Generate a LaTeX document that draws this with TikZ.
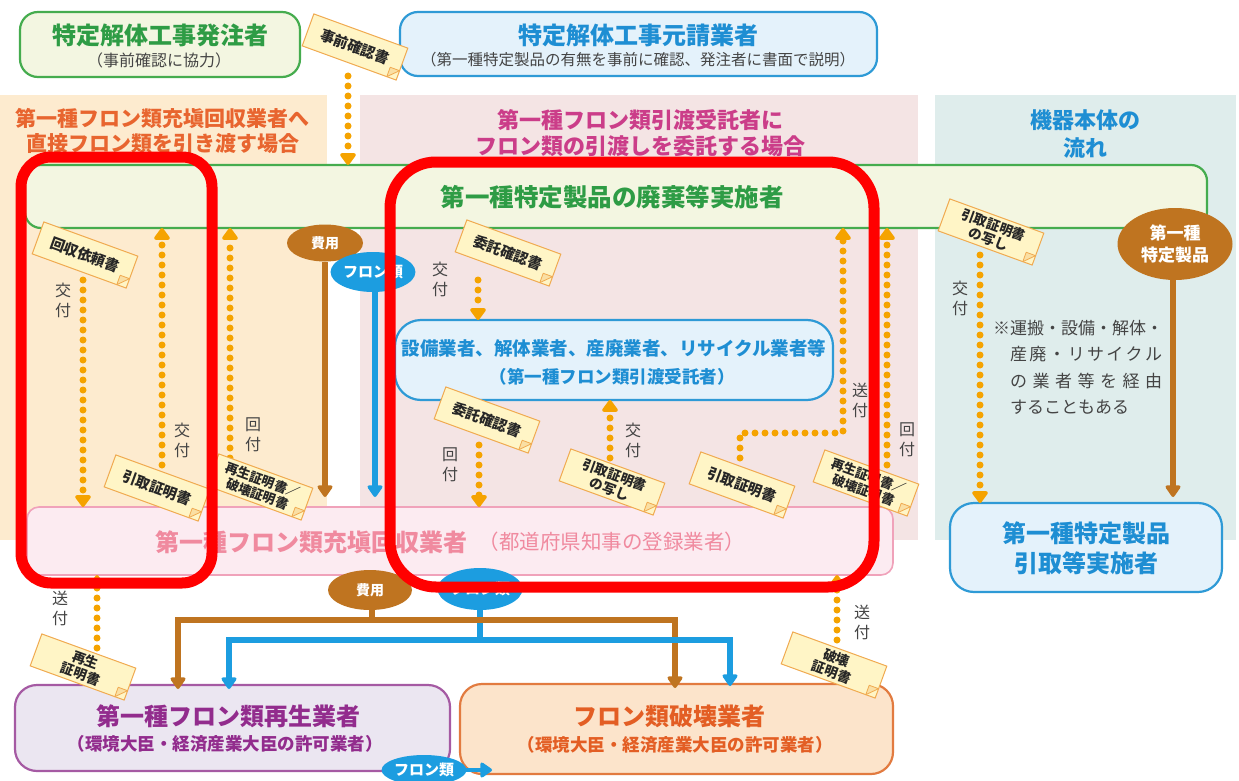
\documentclass[tikz,border=0pt]{standalone}
\usepackage{fontspec}
\setmainfont{Noto Sans CJK JP}
\usetikzlibrary{arrows.meta,shapes.geometric,shapes.misc,calc}
\definecolor{dotc}{HTML}{F5A300}
\definecolor{brownc}{HTML}{BF7420}
\definecolor{bluec}{HTML}{1C9DE0}
\definecolor{bluebd}{HTML}{2E9AD6}
\definecolor{bluetx}{HTML}{1E8ED3}
\definecolor{greenbd}{HTML}{45AC4E}
\definecolor{greentx}{HTML}{2E9C45}
\definecolor{bandf}{HTML}{F3F6E1}
\definecolor{lpanel}{HTML}{FDEBCF}
\definecolor{mpanel}{HTML}{F4E4E4}
\definecolor{rpanel}{HTML}{DFEDEC}
\definecolor{pinkf}{HTML}{FCEBF1}
\definecolor{pinkbd}{HTML}{F0A2BA}
\definecolor{pinktx}{HTML}{F08A9F}
\definecolor{lbluef}{HTML}{E4F2FB}
\definecolor{tagf}{HTML}{FFF5C6}
\definecolor{tagbd}{HTML}{F0AA50}
\definecolor{purpf}{HTML}{EBE6F1}
\definecolor{purpbd}{HTML}{A55AA3}
\definecolor{purptx}{HTML}{922C8D}
\definecolor{orgf}{HTML}{FCE4CB}
\definecolor{orgbd}{HTML}{E27B40}
\definecolor{orgtx}{HTML}{E35E24}
\definecolor{ltitle}{HTML}{E8652F}
\definecolor{mtitle}{HTML}{CB3D89}
\definecolor{graytx}{HTML}{444444}
\definecolor{hlred}{HTML}{FF0000}
\newcommand\myfs[2]{\fontsize{#1}{#2}\selectfont}
\newcommand\tagfold[1]{%
  \coordinate (#1fa) at ($(#1.south east)!10pt!(#1.south west)$);
  \coordinate (#1fb) at ($(#1.south east)!10pt!(#1.north east)$);
  \filldraw[draw=tagbd, fill=tagbd!30!tagf, line width=0.8pt, line join=round]
    (#1fa) -- (#1fb) -- ($(#1fa)+(#1fb)-(#1.south east)$) -- cycle;}
\begin{document}
\begin{tikzpicture}[x=1pt,y=-1pt,
  every node/.style={inner sep=0pt, outer sep=0pt},
  boxst/.style={draw=#1, line width=2.2pt},
  tag/.style={rectangle, draw=tagbd, fill=tagf, line width=1pt,
    rotate=-20, font=\bfseries\myfs{14.5}{16}, text=black!85, align=center,
    minimum width=100pt, minimum height=34pt, inner sep=1.5pt},
  tag2/.style={tag, font=\bfseries\myfs{13.5}{15}},
  vl/.style={font=\myfs{16}{20}, text=graytx, align=center},
  ov/.style={ellipse, fill=#1, text=white, font=\bfseries\myfs{14}{17}, align=center},
  dotarr/.style={draw=dotc, line width=7pt, line cap=round, dash pattern=on 0pt off 10pt,
    -{Triangle[width=18pt,length=13pt,round]}},
  solidarr/.style={draw=#1, line width=6pt, -{Triangle[width=17pt,length=13pt,round]}},
  hl/.style={draw=hlred, line width=11pt, rounded corners=#1}
]
\useasboundingbox (0,0) rectangle (1239,781);
\fill[white] (0,0) rectangle (1239,781);
% panels
\fill[lpanel] (0,95) rectangle (327,540);
\fill[mpanel] (360,95) rectangle (918,540);
\fill[rpanel] (935,95) rectangle (1236,540);
\node[font=\bfseries\myfs{21}{25}, text=ltitle, align=center] (ptl) at (163,131) {第一種フロン類充塡回収業者へ\\直接フロン類を引き渡す場合};
\node[font=\bfseries\myfs{22}{26}, text=mtitle, align=center] (ptm) at (640,133) {第一種フロン類引渡受託者に\\フロン類の引渡しを委託する場合};
\node[font=\bfseries\myfs{22}{28}, text=bluetx, align=center] (ptr) at (1085,134) {機器本体の\\流れ};
% top boxes
\node[boxst=greenbd, fill=bandf, rounded corners=18pt, minimum width=280pt, minimum height=65pt] (hatchu) at (160,44.5) {};
\node[font=\bfseries\myfs{24}{28}, text=greentx] (hatchuT) at (160,35) {特定解体工事発注者};
\node[font=\myfs{16}{18}, text=graytx] (hatchuS) at (159,60) {（事前確認に協力）};
\node[boxst=bluebd, fill=lbluef, rounded corners=18pt, minimum width=477pt, minimum height=64pt] (moto) at (638.5,44) {};
\node[font=\bfseries\myfs{24}{28}, text=bluetx] (motoT) at (638,35) {特定解体工事元請業者};
\node[font=\myfs{15.5}{18}, text=graytx] (motoS) at (638,60) {（第一種特定製品の有無を事前に確認、発注者に書面で説明）};
% band
\node[boxst=greenbd, fill=bandf, rounded corners=16pt, minimum width=1182pt, minimum height=63pt] (band) at (616,196.5) {};
\node[font=\bfseries\myfs{24.5}{28}, text=greentx] (bandT) at (612,197) {第一種特定製品の廃棄等実施者};
% pink box
\node[boxst=pinkbd, fill=pinkf, line width=1.6pt, rounded corners=12pt, minimum width=866pt, minimum height=68pt] (pink) at (460,541) {};
\node[font=\bfseries\myfs{24}{28}, text=pinktx] (pinkT) at (311,542) {第一種フロン類充塡回収業者};
\node[font=\myfs{20.5}{24}, text=pinktx] (pinkS) at (612,542) {（都道府県知事の登録業者）};
% blue box
\node[boxst=bluebd, fill=lbluef, rounded corners=26pt, minimum width=438pt, minimum height=80pt] (bluebox) at (614,360) {};
\node[font=\bfseries\myfs{18.5}{22}, text=bluetx] (blueT) at (614,348) {設備業者、解体業者、産廃業者、リサイクル業者等};
\node[font=\bfseries\myfs{17.5}{21}, text=bluetx] (blueS) at (612,377) {（第一種フロン類引渡受託者）};
% right box
\node[boxst=bluebd, fill=lbluef, rounded corners=24pt, minimum width=272pt, minimum height=89pt] (rbox) at (1086,547.5) {};
\node[font=\bfseries\myfs{24}{30}, text=bluetx, align=center] (rboxT) at (1086,548) {第一種特定製品\\引取等実施者};
% bottom boxes
\node[boxst=purpbd, fill=purpf, rounded corners=22pt, minimum width=435pt, minimum height=86pt] (saisei) at (232.5,728) {};
\node[font=\bfseries\myfs{24}{28}, text=purptx] (saiseiT) at (228,716) {第一種フロン類再生業者};
\node[font=\bfseries\myfs{17.5}{21}, text=purptx] (saiseiS) at (225,744) {（環境大臣・経済産業大臣の許可業者）};
\node[boxst=orgbd, fill=orgf, rounded corners=22pt, minimum width=433pt, minimum height=90pt] (hakai) at (676.5,729) {};
\node[font=\bfseries\myfs{24}{28}, text=orgtx] (hakaiT) at (669,716) {フロン類破壊業者};
\node[font=\bfseries\myfs{17.5}{21}, text=orgtx] (hakaiS) at (675,745) {（環境大臣・経済産業大臣の許可業者）};
% ellipses
\node[ov=brownc, minimum width=76pt, minimum height=37pt] (hiyouA) at (325,243) {費用};
\node[ov=bluec, minimum width=77pt, minimum height=40pt, font=\bfseries\myfs{15}{17}] (fronA) at (373,272) {フロン類};
\node[ov=brownc, minimum width=115pt, minimum height=72pt, font=\bfseries\myfs{17}{22}] (seihin) at (1175,244) {第一種\\特定製品};
\node[ov=brownc, minimum width=84pt, minimum height=40pt] (hiyouB) at (370,590) {費用};
\node[ov=bluec, minimum width=84pt, minimum height=42pt, font=\bfseries\myfs{15}{17}] (fronB) at (480,589) {フロン類};
\node[ov=bluec, minimum width=80pt, minimum height=30pt, font=\bfseries\myfs{15}{17}] (fronC) at (424,770) {フロン類};
% solid arrows
\coordinate (ea) at (325,497);
\coordinate (eb) at (375,497);
\coordinate (ec) at (1173,497);
\draw[solidarr=brownc] (hiyouA.south) -- (ea);
\draw[solidarr=bluec] (fronA.south -| eb) -- (eb);
\draw[solidarr=brownc] (seihin.south -| ec) -- (ec);
\coordinate (bj) at (372,620);
\coordinate (bl) at (178,620);
\coordinate (br) at (675,620);
\coordinate (uj) at (480,640);
\coordinate (ul) at (229,640);
\coordinate (ur) at (730,640);
\draw[brownc, line width=6pt] (hiyouB.south -| bj) -- (bj);
\draw[bluec, line width=6pt] (fronB.south) -- (uj);
\draw[solidarr=brownc] (bj) -- (bl) -- ([yshift=-4pt]bl |- saisei.north);
\draw[solidarr=brownc] (bj) -- (br) -- ([yshift=-4pt]br |- hakai.north);
\draw[solidarr=bluec] (uj) -- (ul) -- ([yshift=-4pt]ul |- saisei.north);
\draw[solidarr=bluec] (uj) -- (ur) -- ([yshift=-2pt]ur |- hakai.north);
\coordinate (ecn) at (492,770);
\draw[solidarr=bluec, line width=4pt] (fronC.east) -- (ecn);
% dotted arrows
\coordinate (p1) at (348,76);
\coordinate (p2) at (83,280);
\coordinate (p3) at (162,465);
\coordinate (p4) at (230,458);
\coordinate (p5) at (478,280);
\coordinate (p6) at (479,445);
\coordinate (p7) at (610,458);
\coordinate (p8) at (740,458);
\coordinate (p8b) at (843,433);
\coordinate (p9) at (887,465);
\coordinate (p10) at (980,255);
\coordinate (p11) at (97,648);
\coordinate (p12) at (837,640);
\draw[dotarr] (p1) -- (p1 |- band.north);
\draw[dotarr] (p2) -- (p2 |- pink.north);
\draw[dotarr] (p3) -- (p3 |- band.south);
\draw[dotarr] (p4) -- (p4 |- band.south);
\draw[dotarr] (p5) -- (p5 |- bluebox.north);
\draw[dotarr] (p6) -- (p6 |- pink.north);
\draw[dotarr] (p7) -- (p7 |- bluebox.south);
\draw[dotarr] (p8) |- (p8b) -- (p8b |- band.south);
\draw[dotarr] (p9) -- (p9 |- band.south);
\draw[dotarr] (p10) -- (p10 |- rbox.north);
\draw[dotarr] (p11) -- (p11 |- pink.south);
\draw[dotarr] (p12) -- (p12 |- pink.south);
% tags
\node[tag] (tA) at (355,47) {事前確認書}; \tagfold{tA}
\node[tag] (tB) at (85,255) {回収依頼書}; \tagfold{tB}
\node[tag] (tC) at (157,488) {引取証明書}; \tagfold{tC}
\node[tag2, font=\bfseries\myfs{13}{15}] (tD) at (260,487) {再生証明書／\\破壊証明書}; \tagfold{tD}
\node[tag] (tE) at (508,253) {委託確認書}; \tagfold{tE}
\node[tag] (tF) at (487,420) {委託確認書}; \tagfold{tF}
\node[tag2] (tG) at (612,482) {引取証明書\\の写し}; \tagfold{tG}
\node[tag] (tH) at (742,485) {引取証明書}; \tagfold{tH}
\node[tag2, font=\bfseries\myfs{13}{15}] (tI) at (866,483) {再生証明書／\\破壊証明書}; \tagfold{tI}
\node[tag2] (tJ) at (991,232) {引取証明書\\の写し}; \tagfold{tJ}
\node[tag2] (tK) at (83,667) {再生\\証明書}; \tagfold{tK}
\node[tag2] (tL) at (834,665) {破壊\\証明書}; \tagfold{tL}
% labels
\node[vl] (lA) at (63,300) {交\\付};
\node[vl] (lB) at (182,440) {交\\付};
\node[vl] (lC) at (253,435) {回\\付};
\node[vl] (lD) at (440,279) {交\\付};
\node[vl] (lE) at (450,465) {回\\付};
\node[vl] (lF) at (633,440) {交\\付};
\node[vl] (lG) at (860,400) {送\\付};
\node[vl] (lH) at (907,440) {回\\付};
\node[vl] (lI) at (960,298) {交\\付};
\node[vl] (lJ) at (60,608) {送\\付};
\node[vl] (lK) at (862,622) {送\\付};
% note
\node[anchor=north west, align=left, font=\myfs{17}{26.5}, text=graytx] (note) at (993,320)
 {※運搬・設備・解体・\\
  \hspace*{17pt}\makebox[152pt]{産\hfill 廃\hfill ・\hfill リ\hfill サ\hfill イ\hfill ク\hfill ル}\\
  \hspace*{17pt}\makebox[152pt]{の\hfill 業\hfill 者\hfill 等\hfill を\hfill 経\hfill 由}\\
  \hspace*{17pt}することもある};
% highlights
\node[hl=30pt, minimum width=191pt, minimum height=426pt] (hlL) at (116.5,370) {};
\node[hl=46pt, minimum width=484pt, minimum height=425pt] (hlC) at (632,374.5) {};
\end{tikzpicture}
\end{document}
